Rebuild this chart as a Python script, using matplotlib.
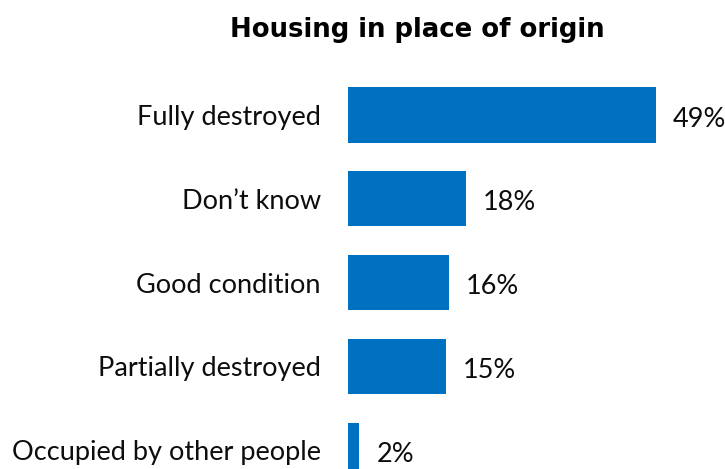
import matplotlib
matplotlib.use("Agg")
import matplotlib.pyplot as plt

categories = ["Fully destroyed", "Don\u2019t know", "Good condition", "Partially destroyed", "Occupied by other people"]
values = [49, 18.7, 16.0, 15.6, 1.8]
labels = ["49%", "18%", "16%", "15%", "2%"]

plt.rcParams['font.family'] = ['Lato', 'DejaVu Sans']

fig = plt.figure(figsize=(7.25, 4.69), dpi=100)
ax = fig.add_axes([0.48, 0.0, 0.52, 1 - 73.1/469])
y = list(range(len(categories)))
ax.barh(y, values, height=0.66, color="#0070C0")
ax.set_ylim(4.224, -0.5)
ax.set_xlim(0, 377/6.286)
for yi, v, lab in zip(y, values, labels):
    ax.text(v + 2.7, yi + 0.05, lab, va="center", ha="left", fontsize=19.5, color="#0d0d0d")
ax.set_yticks(y)
ax.set_yticklabels(categories, fontsize=19.5, color="#0d0d0d")
ax.tick_params(axis="y", length=0, pad=19.5)
ax.set_xticks([])
for s in ax.spines.values():
    s.set_visible(False)
fig.text(0.576, 0.935, "Housing in place of origin", ha="center", va="center",
         fontsize=18.7, fontweight="bold", family=["DejaVu Sans"], color="black")
fig.savefig("out.png", dpi=100)
